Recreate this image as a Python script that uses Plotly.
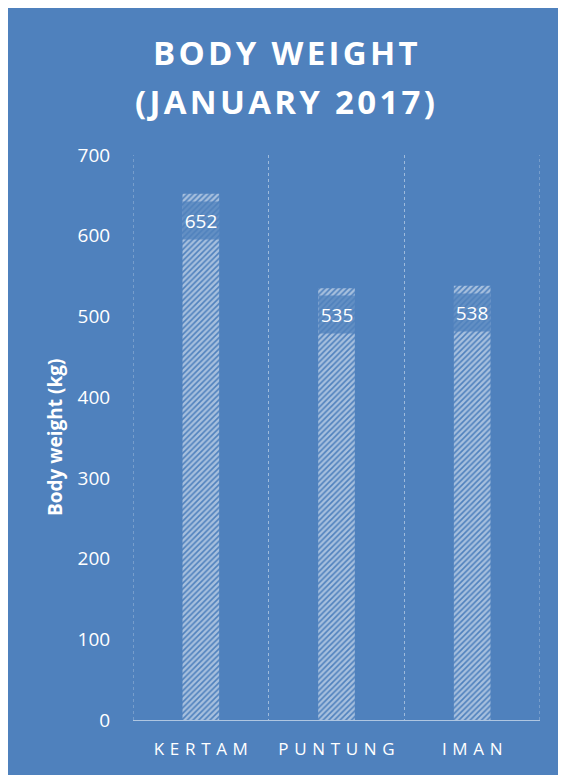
import plotly.graph_objects as go

categories = ["KERTAM", "PUNTUNG", "IMAN"]
values = [652, 535, 538]
y_ticks = [0, 100, 200, 300, 400, 500, 600, 700]
title_lines = ["BODY WEIGHT", "(JANUARY 2017)"]
y_title = "Body weight (kg)"

BLUE = "#4F81BD"
# figure is placed at an 8px page offset by the browser
W, H = 558, 767
L, R, T, B = 125, 26, 147, 55
pw, ph = W - L - R, H - T - B

def spaced(s, sp):
    return sp.join(list(s))

def px_x(x):
    return (x - L) / pw

def px_y(y):
    return (H - B - y) / ph

fig = go.Figure()
fig.add_trace(go.Bar(
    x=categories, y=values, width=0.27,
    marker=dict(color=BLUE, line=dict(width=0),
                pattern=dict(shape="/", fgcolor="white", bgcolor=BLUE,
                             size=4, solidity=0.6)),
    hoverinfo="skip",
))

for c, v in zip(categories, values):
    fig.add_annotation(
        x=c, y=v, xref="x", yref="y", text=str(v), showarrow=False,
        yanchor="top", yshift=-7, width=34, height=35,
        bgcolor="rgba(79,129,189,0.78)", borderpad=1,
        font=dict(family="Open Sans", size=19, color="white"),
    )

for i, line in enumerate(title_lines):
    fig.add_annotation(
        x=px_x(277), y=px_y(44 + 49 * i), xref="paper", yref="paper",
        text=spaced(line, "\u200a"), showarrow=False, xanchor="center", yanchor="middle",
        font=dict(family="Open Sans", size=33, color="white", weight="bold"),
    )

fig.add_annotation(
    x=px_x(47), y=px_y(430), xref="paper", yref="paper", text=y_title,
    showarrow=False, textangle=-90, xanchor="center", yanchor="middle",
    font=dict(family="Open Sans", size=19, color="white", weight="bold"),
)

# dotted boundary lines at the plot edges (category boundaries)
for xb in (-0.5, 2.5):
    fig.add_shape(type="line", xref="x", yref="paper", x0=xb, x1=xb, y0=0, y1=1,
                  line=dict(color="rgba(255,255,255,0.45)", width=1, dash="dot"))

fig.update_layout(
    width=W, height=H,
    margin=dict(l=L, r=R, t=T, b=B),
    paper_bgcolor=BLUE, plot_bgcolor=BLUE,
    showlegend=False,
    xaxis=dict(
        tickson="boundaries", showgrid=True, griddash="dot",
        gridcolor="rgba(255,255,255,0.45)", gridwidth=1,
        ticks="", ticklabelstandoff=14,
        showline=True, linecolor="rgba(255,255,255,0.55)", linewidth=1,
        tickvals=categories, ticktext=[spaced(c, "\u2004") for c in categories],
        tickfont=dict(family="Open Sans", size=17, color="white"),
        range=[-0.5, 2.5], fixedrange=True,
    ),
    yaxis=dict(
        range=[0, 700], tickvals=y_ticks, showgrid=False, zeroline=False,
        tickfont=dict(family="Open Sans", size=19, color="white"),
        ticks="outside", ticklen=18, tickcolor="rgba(0,0,0,0)",
    ),
)

fig.write_html("out.html")
